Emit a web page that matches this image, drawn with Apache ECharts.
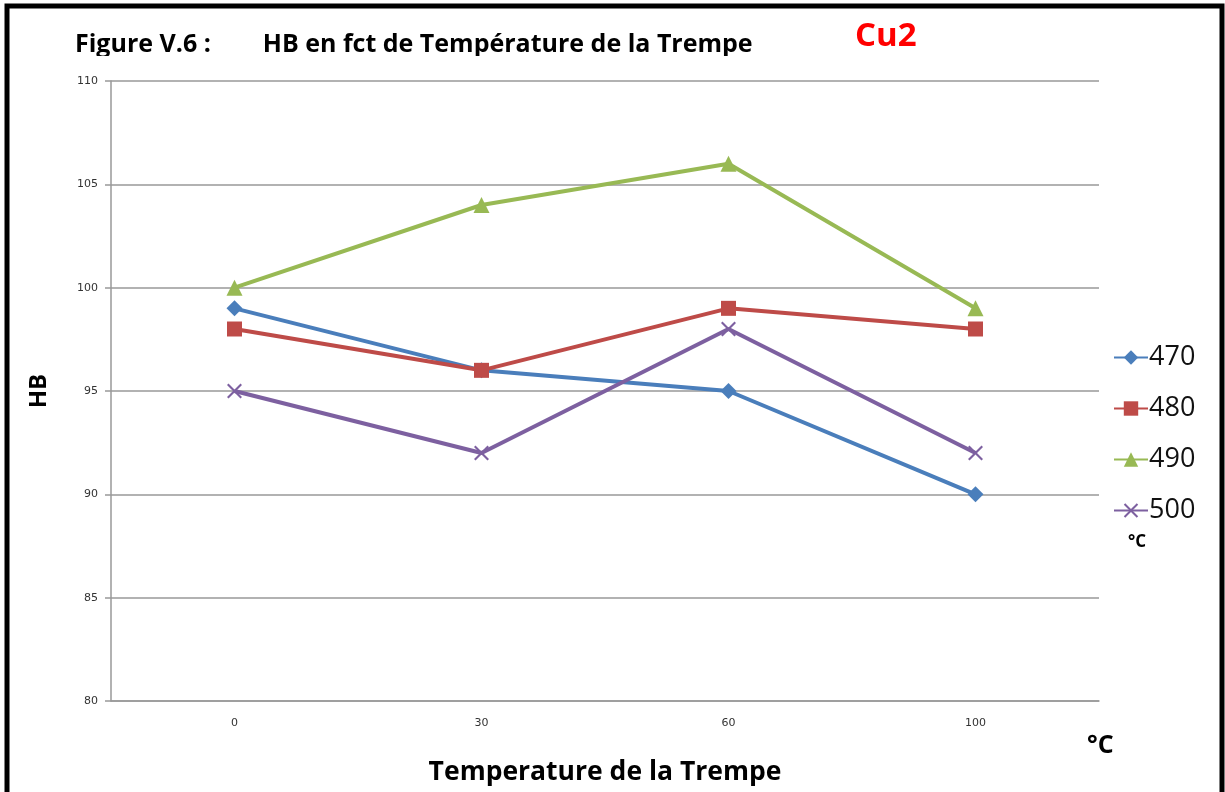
<!DOCTYPE html>
<html>
<head>
<meta charset="utf-8">
<script src="https://cdn.jsdelivr.net/npm/echarts@6/dist/echarts.min.js"></script>
<style>
html,body{margin:0;padding:0;background:#fff;}
#c{width:1225px;height:792px;}
</style>
</head>
<body>
<div id="c"></div>
<script>
const categories = ['0', '30', '60', '100'];
const s470 = [99, 96, 95, 90];
const s480 = [98, 96, 99, 98];
const s490 = [100, 104, 106, 99];
const s500 = [95, 92, 98, 92];
const seriesNames = ['470', '480', '490', '500'];
const yTicks = {min: 80, max: 110, interval: 5};
const colors = ['#4a7ebb', '#be4b48', '#98b954', '#7d60a0'];

const chart = echarts.init(document.getElementById('c'));
const xSym = 'path://M1,0 L5,4 L9,0 L10,1 L6,5 L10,9 L9,10 L5,6 L1,10 L0,9 L4,5 L0,1 Z';
const syms = ['diamond', 'rect', 'triangle', xSym];
const sizes = [16, 15, 16, 15];
const data = [s470, s480, s490, s500];

chart.setOption({
  animation: false,
  backgroundColor: '#fff',
  graphic: [
    {type: 'rect', shape: {x: 7, y: 6, width: 1215, height: 800}, style: {fill: 'none', stroke: '#000', lineWidth: 5}, silent: true, z: 100},
    {type: 'text', left: 75, top: 32, z: 10, style: {text: 'Figure V.6 :        HB en fct de Température de la Trempe', font: 'bold 25px "Open Sans", sans-serif', fill: '#000'}},
    {type: 'rect', shape: {x: 70, y: 56, width: 700, height: 14}, style: {fill: '#fff'}, z: 11, silent: true},
    {type: 'text', left: 855, top: 20, style: {text: 'Cu2', font: 'bold 33px "Open Sans", sans-serif', fill: '#ff0000'}},
    {type: 'text', left: 1087, top: 733, style: {text: '°C', font: 'bold 25px "Open Sans", sans-serif', fill: '#000'}},
    {type: 'text', left: 1128, top: 534, style: {text: '°C', font: 'bold 17px "Open Sans", sans-serif', fill: '#000'}}
  ],
  grid: {left: 111, right: 126, top: 81, bottom: 91, containLabel: false, outerBoundsMode: 'none'},
  legend: {
    orient: 'vertical',
    left: 1108,
    top: 339,
    itemGap: 24,
    itemWidth: 34,
    itemHeight: 18,
    textStyle: {fontSize: 27, color: '#111', fontFamily: '"Open Sans", sans-serif', padding: [0, 0, 0, -4]},
    data: seriesNames
  },
  xAxis: {
    type: 'category',
    data: categories,
    boundaryGap: true,
    name: 'Temperature de la Trempe',
    nameLocation: 'middle',
    nameGap: 58,
    nameTextStyle: {fontSize: 26.5, fontWeight: 'bold', color: '#000', fontFamily: '"Open Sans", sans-serif'},
    axisLine: {lineStyle: {color: '#999', width: 1.5}},
    axisTick: {show: false},
    axisLabel: {fontSize: 11, color: '#333', margin: 17, fontFamily: 'Verdana, "DejaVu Sans", sans-serif'},
    splitLine: {show: false}
  },
  yAxis: {
    type: 'value',
    min: yTicks.min,
    max: yTicks.max,
    interval: yTicks.interval,
    name: 'HB',
    nameLocation: 'middle',
    nameGap: 60,
    nameTextStyle: {fontSize: 24, fontWeight: 'bold', color: '#000', fontFamily: '"Open Sans", sans-serif'},
    axisLine: {show: true, lineStyle: {color: '#999', width: 1.5}},
    axisTick: {show: true, length: 6, lineStyle: {color: '#999', width: 1.5}},
    axisLabel: {fontSize: 11, color: '#333', margin: 13, fontFamily: '"DejaVu Sans", sans-serif'},
    splitLine: {show: true, lineStyle: {color: '#999', width: 1.5}}
  },
  series: seriesNames.map((n, i) => ({
    name: n,
    type: 'line',
    data: data[i],
    symbol: syms[i],
    symbolSize: sizes[i],
    showAllSymbol: true,
    lineStyle: {color: colors[i], width: 4},
    itemStyle: {color: colors[i]},
    z: 3 + i
  }))
});
</script>
</body>
</html>
